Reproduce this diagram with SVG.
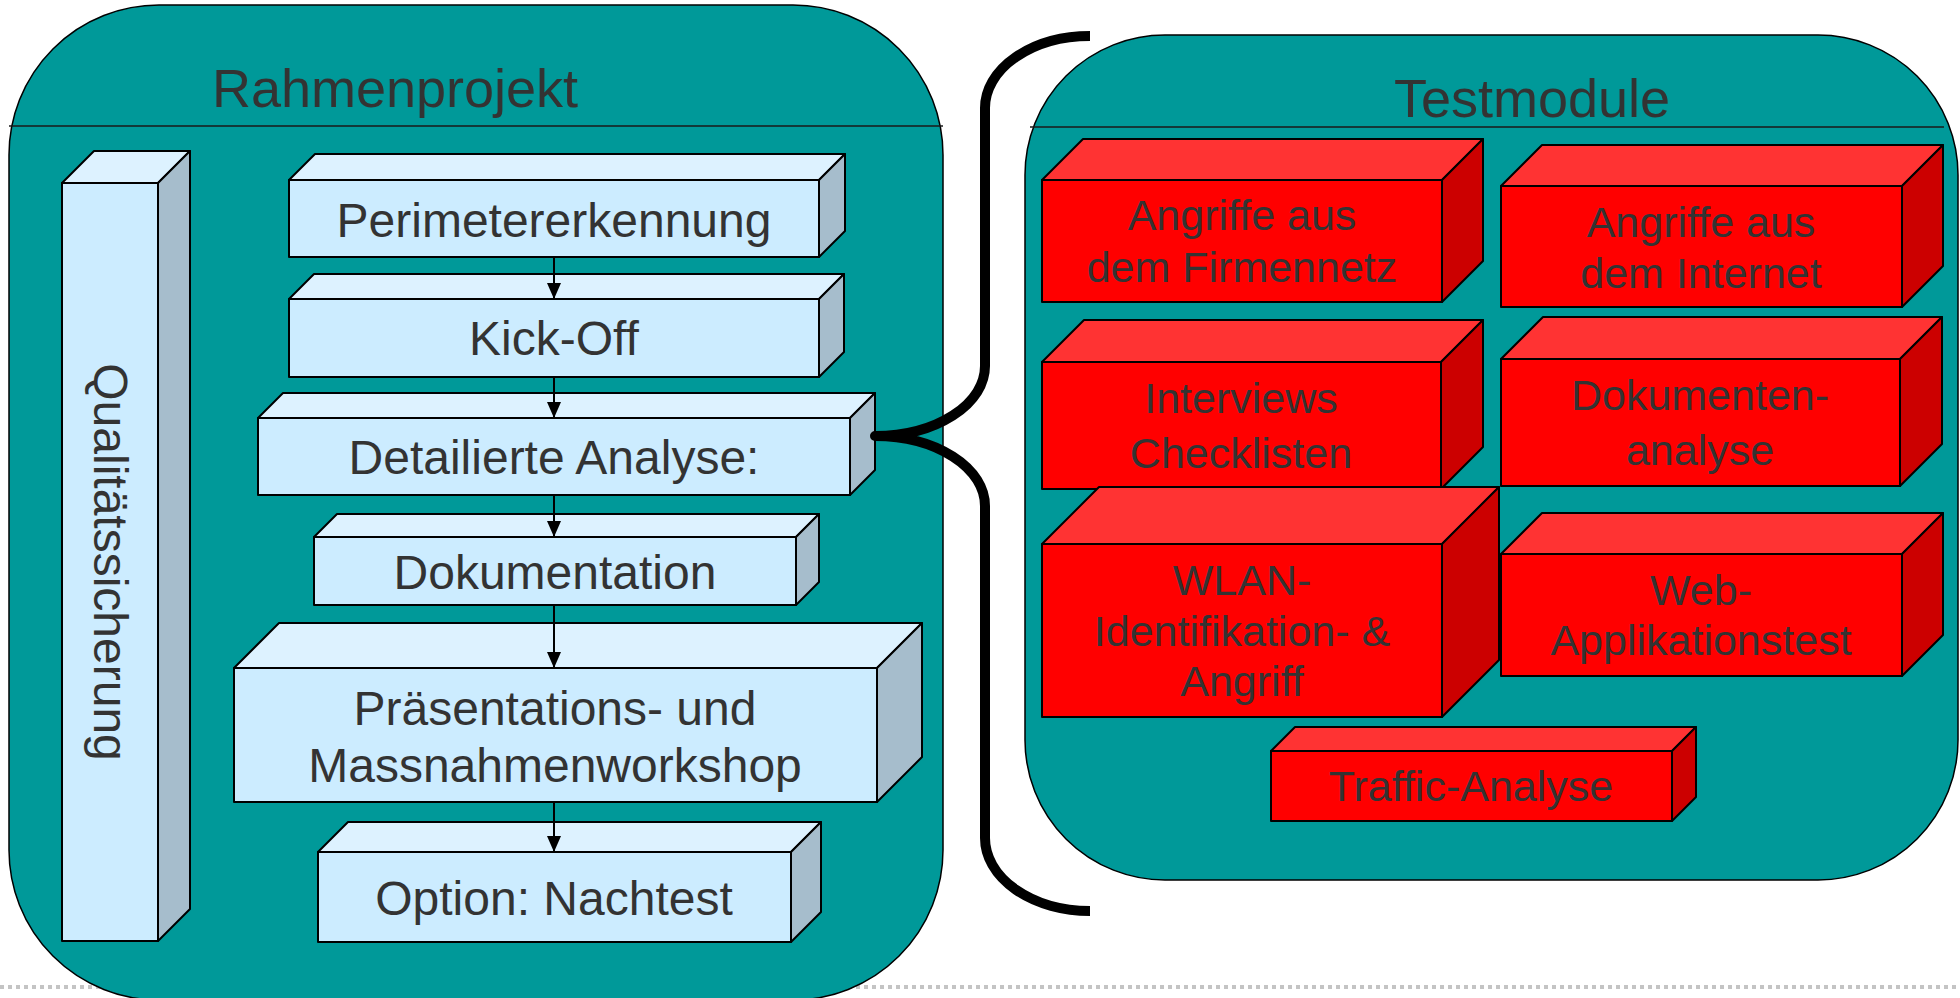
<svg xmlns="http://www.w3.org/2000/svg" width="1960" height="998" viewBox="0 0 1960 998">
<defs>
<style>
.cont{fill:#009999;stroke:#000;stroke-width:1.5}
.hdr{stroke:#1a1a1a;stroke-width:1.5}
.title{font-family:"Liberation Sans",Arial,sans-serif;font-size:54px;fill:#333;text-anchor:middle}
.bf{fill:#CCECFF;stroke:#000;stroke-width:2;stroke-linejoin:round}
.bt{fill:#DDF2FF;stroke:#000;stroke-width:2;stroke-linejoin:round}
.bs{fill:#A6BDCC;stroke:#000;stroke-width:2;stroke-linejoin:round}
.rf{fill:#FF0000;stroke:#000;stroke-width:2;stroke-linejoin:round}
.rt{fill:#FF3333;stroke:#000;stroke-width:2;stroke-linejoin:round}
.rs{fill:#CC0000;stroke:#000;stroke-width:2;stroke-linejoin:round}
.bl{font-family:"Liberation Sans",Arial,sans-serif;font-size:48px;fill:#333;text-anchor:middle}
.rl{font-family:"Liberation Sans",Arial,sans-serif;font-size:43px;fill:#333;text-anchor:middle}
.arr{stroke:#000;stroke-width:2;fill:none;marker-end:url(#ah)}
</style>
<marker id="ah" markerWidth="16" markerHeight="14" refX="16" refY="7" orient="auto" markerUnits="userSpaceOnUse" viewBox="0 0 16 14">
<path d="M0 0 L16 7 L0 14 Z" fill="#000"/>
</marker>
</defs>
<rect width="1960" height="998" fill="#fff"/>
<line x1="0" y1="987" x2="1960" y2="987" stroke="#c4c4c4" stroke-width="4" stroke-dasharray="4 4"/>

<g id="rahmenprojekt">
<rect class="cont" x="9" y="5" width="934" height="995" rx="150" ry="150"/>
<line class="hdr" x1="9" y1="126" x2="943" y2="126"/>
<text class="title" x="395" y="107">Rahmenprojekt</text>
</g>

<g id="testmodule">
<rect class="cont" x="1025" y="35" width="933" height="845" rx="140" ry="140"/>
<line class="hdr" x1="1030" y1="127" x2="1944" y2="127"/>
<text class="title" x="1532" y="117">Testmodule</text>
</g>

<g id="qualitaetssicherung">
<rect class="bf" x="62" y="183" width="96" height="758"/>
<polygon class="bt" points="62,183 94,151 190,151 158,183"/>
<polygon class="bs" points="158,183 190,151 190,909 158,941"/>
<text class="bl" transform="translate(94,562) rotate(90)">Qualitätssicherung</text>
</g>

<g id="perimetererkennung">
<rect class="bf" x="289" y="180" width="530" height="77"/>
<polygon class="bt" points="289,180 315,154 845,154 819,180"/>
<polygon class="bs" points="819,180 845,154 845,231 819,257"/>
<text class="bl" x="554" y="237">Perimetererkennung</text>
</g>

<g id="kickoff">
<rect class="bf" x="289" y="299" width="530" height="78"/>
<polygon class="bt" points="289,299 314,274 844,274 819,299"/>
<polygon class="bs" points="819,299 844,274 844,352 819,377"/>
<text class="bl" x="554" y="355">Kick-Off</text>
</g>

<g id="detailierte-analyse">
<rect class="bf" x="258" y="418" width="592" height="77"/>
<polygon class="bt" points="258,418 283,393 875,393 850,418"/>
<polygon class="bs" points="850,418 875,393 875,470 850,495"/>
<text class="bl" x="554" y="474">Detailierte Analyse:</text>
</g>

<g id="dokumentation">
<rect class="bf" x="314" y="537" width="482" height="68"/>
<polygon class="bt" points="314,537 337,514 819,514 796,537"/>
<polygon class="bs" points="796,537 819,514 819,582 796,605"/>
<text class="bl" x="555" y="589">Dokumentation</text>
</g>

<g id="praesentation">
<rect class="bf" x="234" y="668" width="643" height="134"/>
<polygon class="bt" points="234,668 279,623 922,623 877,668"/>
<polygon class="bs" points="877,668 922,623 922,757 877,802"/>
<text class="bl" x="555" y="725">Präsentations- und</text>
<text class="bl" x="555" y="782">Massnahmenworkshop</text>
</g>

<g id="nachtest">
<rect class="bf" x="318" y="852" width="473" height="90"/>
<polygon class="bt" points="318,852 348,822 821,822 791,852"/>
<polygon class="bs" points="791,852 821,822 821,912 791,942"/>
<text class="bl" x="554" y="915">Option: Nachtest</text>
</g>

<g id="firmennetz">
<rect class="rf" x="1042" y="180" width="400" height="122"/>
<polygon class="rt" points="1042,180 1083,139 1483,139 1442,180"/>
<polygon class="rs" points="1442,180 1483,139 1483,261 1442,302"/>
<text class="rl" x="1242" y="230">Angriffe aus</text>
<text class="rl" x="1242" y="282">dem Firmennetz</text>
</g>

<g id="internet">
<rect class="rf" x="1501" y="186" width="401" height="121"/>
<polygon class="rt" points="1501,186 1542,145 1943,145 1902,186"/>
<polygon class="rs" points="1902,186 1943,145 1943,266 1902,307"/>
<text class="rl" x="1701" y="237">Angriffe aus</text>
<text class="rl" x="1701" y="288">dem Internet</text>
</g>

<g id="interviews">
<rect class="rf" x="1042" y="362" width="399" height="127"/>
<polygon class="rt" points="1042,362 1084,320 1483,320 1441,362"/>
<polygon class="rs" points="1441,362 1483,320 1483,447 1441,489"/>
<text class="rl" x="1241" y="413">Interviews</text>
<text class="rl" x="1241" y="468">Checklisten</text>
</g>

<g id="dokumentenanalyse">
<rect class="rf" x="1501" y="359" width="399" height="127"/>
<polygon class="rt" points="1501,359 1543,317 1942,317 1900,359"/>
<polygon class="rs" points="1900,359 1942,317 1942,444 1900,486"/>
<text class="rl" x="1700" y="410">Dokumenten-</text>
<text class="rl" x="1700" y="465">analyse</text>
</g>

<g id="webapp">
<rect class="rf" x="1501" y="554" width="401" height="122"/>
<polygon class="rt" points="1501,554 1542,513 1943,513 1902,554"/>
<polygon class="rs" points="1902,554 1943,513 1943,635 1902,676"/>
<text class="rl" x="1701" y="605">Web-</text>
<text class="rl" x="1701" y="655">Applikationstest</text>
</g>

<g id="wlan">
<rect class="rf" x="1042" y="544" width="400" height="173"/>
<polygon class="rt" points="1042,544 1099,487 1499,487 1442,544"/>
<polygon class="rs" points="1442,544 1499,487 1499,660 1442,717"/>
<text class="rl" x="1242" y="595">WLAN-</text>
<text class="rl" x="1242" y="646">Identifikation- &amp;</text>
<text class="rl" x="1242" y="696">Angriff</text>
</g>

<g id="traffic">
<rect class="rf" x="1271" y="751" width="401" height="70"/>
<polygon class="rt" points="1271,751 1295,727 1696,727 1672,751"/>
<polygon class="rs" points="1672,751 1696,727 1696,797 1672,821"/>
<text class="rl" x="1471" y="801">Traffic-Analyse</text>
</g>

<g id="connectors">
<line class="arr" x1="554" y1="257" x2="554" y2="299"/>
<line class="arr" x1="554" y1="377" x2="554" y2="418"/>
<line class="arr" x1="554" y1="495" x2="554" y2="537"/>
<line class="arr" x1="554" y1="605" x2="554" y2="668"/>
<line class="arr" x1="554" y1="802" x2="554" y2="852"/>
<path d="M1090 36 A105 72 0 0 0 985 108 L985 366 A110 70 0 0 1 875 436 A110 70 0 0 1 985 506 L985 838 A105 73 0 0 0 1090 911" fill="none" stroke="#000" stroke-width="10" stroke-linejoin="round"/>
</g>
</svg>
